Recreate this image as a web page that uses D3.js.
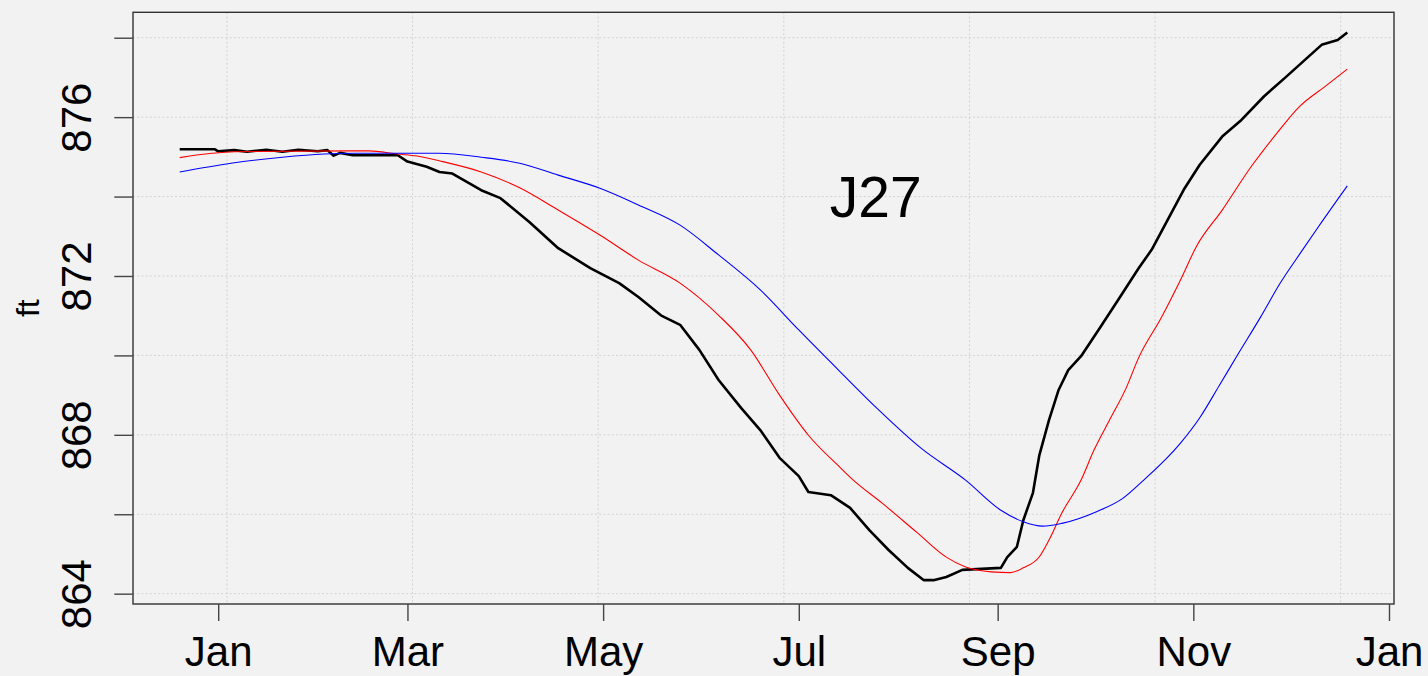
<!DOCTYPE html>
<html><head><meta charset="utf-8">
<script src="https://cdn.jsdelivr.net/npm/d3@7/dist/d3.min.js"></script>
<style>html,body{margin:0;padding:0;background:#f2f2f2;} svg{display:block;}</style>
</head><body>
<svg id="chart" width="1428" height="676"></svg>
<script>
// ---- data ----
const obsDates = ["2017-12-20","2017-12-31","2018-01-01","2018-01-06","2018-01-10","2018-01-16","2018-01-21","2018-01-26","2018-02-01","2018-02-04","2018-02-06","2018-02-08","2018-02-12","2018-02-26","2018-03-01","2018-03-07","2018-03-11","2018-03-15","2018-03-24","2018-03-30","2018-04-08","2018-04-17","2018-04-27","2018-05-06","2018-05-12","2018-05-19","2018-05-25","2018-05-31","2018-06-06","2018-06-13","2018-06-19","2018-06-25","2018-07-01","2018-07-04","2018-07-11","2018-07-17","2018-07-23","2018-07-29","2018-08-04","2018-08-09","2018-08-12","2018-08-16","2018-08-21","2018-09-02","2018-09-04","2018-09-07","2018-09-09","2018-09-12","2018-09-14","2018-09-17","2018-09-20","2018-09-23","2018-09-27","2018-10-03","2018-10-09","2018-10-15","2018-10-19","2018-10-24","2018-10-29","2018-11-03","2018-11-10","2018-11-16","2018-11-23","2018-11-30","2018-12-07","2018-12-11","2018-12-16","2018-12-19"];
const obsFt = [875.19,875.19,875.14,875.17,875.13,875.18,875.13,875.18,875.14,875.17,875.03,875.10,875.04,875.04,874.88,874.75,874.62,874.58,874.16,873.96,873.36,872.70,872.20,871.82,871.47,871.01,870.77,870.14,869.38,868.68,868.12,867.42,866.96,866.56,866.48,866.16,865.60,865.10,864.65,864.34,864.34,864.42,864.60,864.65,864.92,865.18,865.85,866.54,867.49,868.37,869.13,869.63,869.98,870.71,871.45,872.20,872.66,873.41,874.17,874.80,875.51,875.93,876.52,877.02,877.53,877.82,877.94,878.13];

const redDates = ["2017-12-20","2017-12-30","2018-01-06","2018-02-11","2018-02-17","2018-02-26","2018-03-04","2018-03-12","2018-03-24","2018-04-05","2018-04-17","2018-04-30","2018-05-12","2018-05-25","2018-06-06","2018-06-16","2018-06-25","2018-07-04","2018-07-14","2018-07-18","2018-07-27","2018-08-07","2018-08-16","2018-08-22","2018-08-30","2018-09-05","2018-09-09","2018-09-14","2018-09-17","2018-09-21","2018-09-27","2018-10-01","2018-10-06","2018-10-11","2018-10-15","2018-10-22","2018-10-28","2018-11-02","2018-11-10","2018-11-19","2018-11-27","2018-12-04","2018-12-12","2018-12-19"];
const redFt = [874.98,875.09,875.13,875.15,875.15,875.07,875.02,874.88,874.62,874.22,873.66,873.03,872.40,871.82,871.01,870.14,869.00,867.99,867.17,866.86,866.28,865.53,864.92,864.67,864.55,864.53,864.65,864.93,865.35,866.03,866.86,867.61,868.39,869.17,869.95,870.95,871.90,872.75,873.66,874.75,875.59,876.26,876.77,877.21];

const blueDates = ["2017-12-20","2018-01-05","2018-01-21","2018-02-03","2018-02-13","2018-03-11","2018-03-24","2018-04-05","2018-04-17","2018-04-30","2018-05-12","2018-05-25","2018-06-06","2018-06-19","2018-07-01","2018-07-14","2018-07-26","2018-08-08","2018-08-22","2018-09-02","2018-09-09","2018-09-15","2018-09-21","2018-10-02","2018-10-10","2018-10-16","2018-10-28","2018-11-03","2018-11-09","2018-11-15","2018-11-22","2018-11-28","2018-12-05","2018-12-10","2018-12-19"];
const blueFt = [874.62,874.84,874.99,875.07,875.09,875.09,874.99,874.84,874.54,874.21,873.79,873.28,872.53,871.65,870.64,869.58,868.62,867.67,866.86,866.10,865.81,865.70,865.77,866.07,866.40,866.82,867.79,868.43,869.23,870.04,870.97,871.81,872.65,873.24,874.27];

const yTicks = [864,866,868,870,872,874,876,878];
const yTickLabels = ["864","","868","","872","","876",""];
const xTickLabels = ["Jan","Mar","May","Jul","Sep","Nov","Jan"];
const yLimits = [863.74, 878.64];
const yTitle = "ft";
const stationLabel = "J27";
const stationAt = ["2018-07-25", 874];

// ---- layout ----
const parse = d3.utcParse("%Y-%m-%d");
const L = 133, R = 1394, T = 12.3, B = 604;
const FONT = "'Liberation Sans', Arial, sans-serif";
const svg = d3.select("#chart");
svg.append("rect").attr("width",1428).attr("height",676).attr("fill","#f2f2f2");

const obs = obsDates.map((d,i)=>({d:parse(d), v:obsFt[i]}));
const red = redDates.map((d,i)=>({d:parse(d), v:redFt[i]}));
const blue = blueDates.map((d,i)=>({d:parse(d), v:blueFt[i]}));

const ext = d3.extent([...obs,...red,...blue], p=>+p.d);
const pad = (ext[1]-ext[0])*0.04;
const x = d3.scaleUtc().domain([new Date(ext[0]-pad), new Date(ext[1]+pad)]).range([L,R]);
const y = d3.scaleLinear().domain(yLimits).range([B,T]);

// grid (R grid(): pretty numeric ticks of the POSIXct axis, 5e6 s)
const step = 5e9;
const g0 = Math.ceil(+x.domain()[0]/step)*step;
const gridX = d3.range(g0, +x.domain()[1], step);
const grid = svg.append("g").attr("stroke","#d3d3d3").attr("stroke-width",1).attr("stroke-dasharray","2,2.2");
grid.selectAll("line.v").data(gridX).join("line").attr("class","v")
  .attr("x1",d=>x(new Date(d))).attr("x2",d=>x(new Date(d))).attr("y1",T).attr("y2",B);
grid.selectAll("line.h").data(yTicks).join("line").attr("class","h")
  .attr("x1",L).attr("x2",R).attr("y1",d=>y(d)).attr("y2",d=>y(d));

// lines
const line = d3.line().x(p=>x(p.d)).y(p=>y(p.v));
const smooth = d3.line().x(p=>x(p.d)).y(p=>y(p.v)).curve(d3.curveMonotoneX);
svg.append("path").datum(obs).attr("d",line).attr("fill","none").attr("stroke","#000").attr("stroke-width",2.6).attr("stroke-linejoin","round");
svg.append("path").datum(red).attr("d",smooth).attr("fill","none").attr("stroke","#ff0000").attr("stroke-width",1.1);
svg.append("path").datum(blue).attr("d",smooth).attr("fill","none").attr("stroke","#0000ff").attr("stroke-width",1.1);

// box
svg.append("rect").attr("x",L).attr("y",T).attr("width",R-L).attr("height",B-T)
  .attr("fill","none").attr("stroke","#333").attr("stroke-width",1.4);

// x axis
const monthTicks = d3.utcMonth.every(2).range(d3.utcMonth.ceil(x.domain()[0]), x.domain()[1]);
const xAxis = d3.axisBottom(x).tickValues(monthTicks).tickSize(17).tickFormat((d,i)=>xTickLabels[i]);
const gx = svg.append("g").attr("transform",`translate(0,${B})`).call(xAxis);
gx.select(".domain").remove();
gx.selectAll(".tick line").attr("stroke","#444").attr("stroke-width",1.4);
gx.selectAll(".tick text").attr("y",62).attr("dy",0).attr("fill","#000")
  .style("font-family",FONT).style("font-size","42px");

// y axis
const yAxis = d3.axisLeft(y).tickValues(yTicks).tickSize(18.7).tickFormat((d,i)=>yTickLabels[i]);
const gy = svg.append("g").attr("transform",`translate(${L},0)`).call(yAxis);
gy.select(".domain").remove();
gy.selectAll(".tick line").attr("stroke","#444").attr("stroke-width",1.4);
gy.selectAll(".tick text").attr("x",0).attr("y",0).attr("dy",0).attr("text-anchor","middle")
  .attr("transform","translate(-42.3,0) rotate(-90)").attr("fill","#000")
  .style("font-family",FONT).style("font-size","42px");

// y title
svg.append("text").attr("transform",`translate(39,${(T+B)/2}) rotate(-90)`).attr("text-anchor","middle")
  .style("font-family",FONT).style("font-size","32px").attr("fill","#000").text(yTitle);

// station label
svg.append("text").attr("x",x(parse(stationAt[0]))).attr("y",y(stationAt[1])).attr("dy","0.35em")
  .attr("text-anchor","middle").style("font-family",FONT).style("font-size","57px").attr("fill","#000").text(stationLabel);
</script>
</body></html>
